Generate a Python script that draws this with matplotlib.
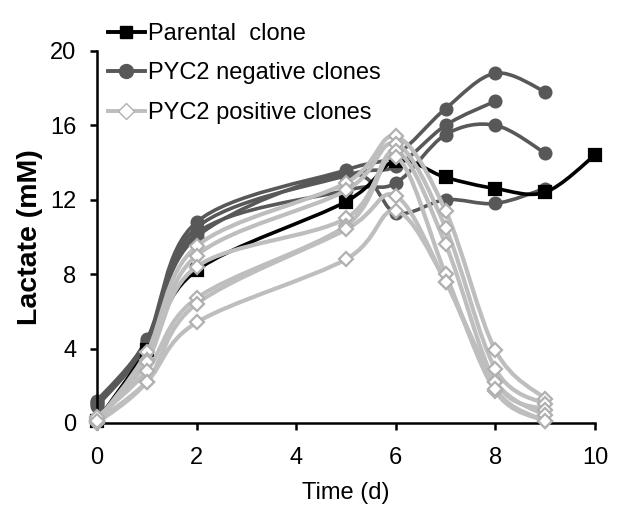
import numpy as np
import matplotlib
matplotlib.use("Agg")
import matplotlib.pyplot as plt
from matplotlib.path import Path
from matplotlib.patches import PathPatch
from matplotlib.lines import Line2D

plt.rcParams["font.family"] = ["Liberation Sans", "DejaVu Sans"]

days = [0, 1, 2, 5, 6, 7, 8, 9, 10]

parental = [0.1, 3.9, 8.2, 11.9, 14.1, 13.2, 12.6, 12.4, 14.4]

negative = [
    [1.0, 4.5, 10.8, 13.6, 14.4, 16.9, 18.8, 17.8],
    [1.1, 4.3, 10.5, 13.3, 13.8, 16.0, 17.3],
    [0.9, 4.2, 10.2, 12.5, 12.9, 15.5, 16.0, 14.5],
    [1.2, 4.4, 10.0, 13.4, 11.3, 12.0, 11.8, 12.6],
]

positive = [
    [0.1, 3.8, 9.5, 12.9, 15.4, 11.4, 3.9, 1.3],
    [0.2, 3.4, 9.0, 12.5, 15.0, 10.5, 2.9, 1.0],
    [0.1, 3.3, 8.4, 11.0, 14.6, 9.6, 2.2, 0.7],
    [0.3, 2.8, 6.7, 10.6, 14.3, 8.0, 1.7, 0.1],
    [0.0, 2.2, 6.4, 10.4, 12.2, 7.6, 2.2, 0.4],
    [0.1, 2.2, 5.4, 8.8, 11.4, 7.6, 1.8, 0.1],
]

c_par = "black"
c_neg = "#585858"
c_pos = "#bebebe"


def smooth_path(xs, ys):
    # Excel-style smoothed line (Catmull-Rom as cubic Bezier)
    pts = np.column_stack([xs, ys]).astype(float)
    verts = [pts[0]]
    codes = [Path.MOVETO]
    n = len(pts)
    for i in range(n - 1):
        p0 = pts[i - 1] if i > 0 else pts[i]
        p1 = pts[i]
        p2 = pts[i + 1]
        p3 = pts[i + 2] if i + 2 < n else pts[i + 1]
        verts += [p1 + (p2 - p0) / 6, p2 - (p3 - p1) / 6, p2]
        codes += [Path.CURVE4] * 3
    return Path(verts, codes)


def draw(ax, vals, color, lw, marker, ms, mfc, mec, z):
    xs = days[:len(vals)]
    ax.add_patch(PathPatch(smooth_path(xs, vals), fill=False, ec=color,
                           lw=lw, zorder=z, clip_on=False))
    ax.plot(xs, vals, ls="none", marker=marker, ms=ms, mfc=mfc, mec=mec,
            mew=1.6, zorder=z + 0.5, clip_on=False)


fig = plt.figure(figsize=(6.34, 5.12), dpi=100)
ax = fig.add_axes([0.153, 0.174, 0.7855, 0.7266])

for v in negative:
    draw(ax, v, c_neg, 2.6, "o", 8.5, c_neg, c_neg, 2)
draw(ax, parental, c_par, 2.6, "s", 8.5, c_par, c_par, 3)
for v in positive:
    draw(ax, v, c_pos, 3.0, "D", 7, "white", "#b0b0b0", 4)

ax.set_xlim(0, 10)
ax.set_ylim(0, 20)
ax.set_xticks(range(0, 11, 2))
ax.set_yticks(range(0, 21, 4))
ax.tick_params(axis="both", which="major", labelsize=17, width=1.8,
               length=5.3, direction="out")
ax.tick_params(axis="x", pad=11.8)
ax.tick_params(axis="y", pad=9.6)
for s in ["top", "right"]:
    ax.spines[s].set_visible(False)
for s in ["left", "bottom"]:
    ax.spines[s].set_linewidth(1.8)

ax.set_xlabel("Time (d)", fontsize=17, labelpad=9.4)
ax.set_ylabel("Lactate (mM)", fontsize=20.5, fontweight="bold", labelpad=5)

handles = [
    Line2D([], [], color=c_par, lw=2.8, marker="s", ms=9, mfc=c_par, mec=c_par),
    Line2D([], [], color=c_neg, lw=2.8, marker="o", ms=10, mfc=c_neg, mec=c_neg),
    Line2D([], [], color=c_pos, lw=2.8, marker="D", ms=8, mfc="white", mec="#b0b0b0"),
]
labels = ["Parental  clone", "PYC2 negative clones", "PYC2 positive clones"]
fig.legend(handles, labels, loc="upper left", bbox_to_anchor=(0.146, 0.9855),
           frameon=False, fontsize=17, handlelength=1.57, handletextpad=0.13,
           labelspacing=0.75, borderpad=0.25, borderaxespad=0.4)

fig.savefig("out.png", dpi=100)
